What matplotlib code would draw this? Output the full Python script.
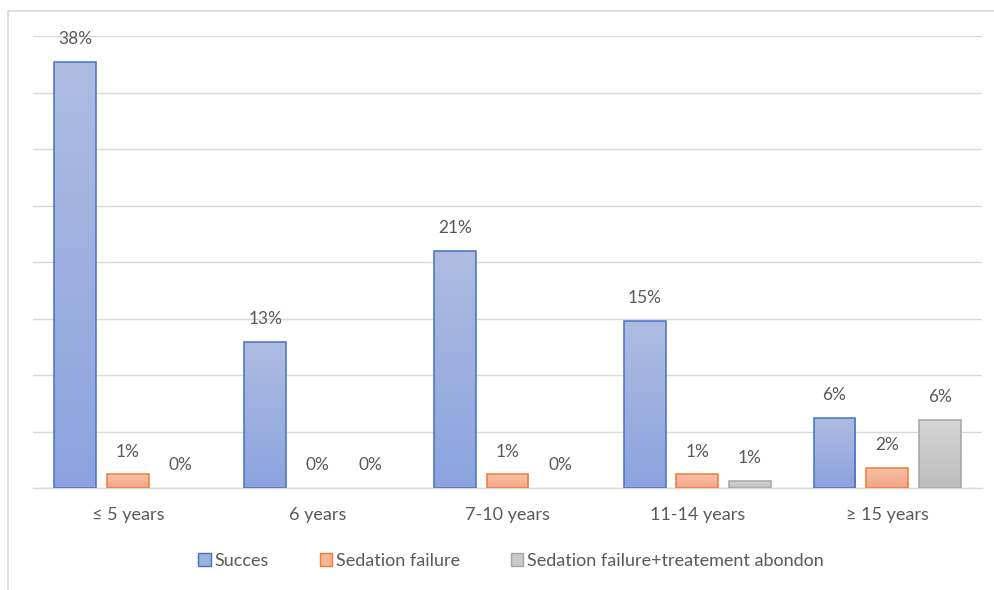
import numpy as np
import matplotlib
matplotlib.use('Agg')
import matplotlib.pyplot as plt
from matplotlib.patches import Rectangle, Patch
from matplotlib.colors import LinearSegmentedColormap

plt.rcParams['font.family'] = ['Lato', 'DejaVu Sans']

groups = ['≤ 5 years', '6 years', '7-10 years', '11-14 years', '≥ 15 years']
series = ['Succes', 'Sedation failure', 'Sedation failure+treatement abondon']
succes = [37.7, 12.9, 21.0, 14.8, 6.2]
sedation_failure = [1.2, 0.0, 1.2, 1.2, 1.8]
failure_abandon = [0.0, 0.0, 0.0, 0.6, 6.0]

# (top colour, bottom colour, edge colour)
styles = [('#AEBCE2', '#8CA3DE', '#4472C4'),
          ('#F8C3AA', '#F4A584', '#ED7D31'),
          ('#D6D6D6', '#BDBDBD', '#A5A5A5')]
text_col = '#595959'
grid_col = '#D9D9D9'

fig = plt.figure(figsize=(9.95, 5.9), dpi=100)
fig.patch.set_facecolor('white')
ax = fig.add_axes([33/995, 1-488/590, (982-33)/995, (488-36)/590])

x = np.arange(len(groups))
width = 0.22
step = 0.277
handles = []
for i, (vals, (top, bot, edge)) in enumerate(zip([succes, sedation_failure, failure_abandon], styles)):
    bars = ax.bar(x + (i-1)*step, vals, width, facecolor='none', edgecolor=edge, linewidth=1.1, zorder=3)
    cmap = LinearSegmentedColormap.from_list('g%d' % i, [bot, top])
    grad = np.linspace(0, 1, 100).reshape(-1, 1)
    for b, v in zip(bars, vals):
        if b.get_height() > 0:
            im = ax.imshow(grad, cmap=cmap, aspect='auto', origin='lower',
                           extent=[b.get_x(), b.get_x()+b.get_width(), 0, b.get_height()], zorder=2)
            im.set_clip_path(b)
        else:
            b.set_linewidth(0)
        ax.annotate('{:.0f}%'.format(v), (b.get_x()+b.get_width()/2, b.get_height()),
                    xytext=(0, 16.5), textcoords='offset points', ha='center', va='center',
                    fontsize=12.5, color=text_col)
    handles.append(Patch(facecolor=cmap(0.5), edgecolor=edge, label=series[i]))

ax.set_xlim(-0.5, len(groups)-0.5)
ax.set_ylim(0, 40)
ax.set_yticks(np.arange(0, 41, 5))
ax.set_yticklabels([])
ax.set_xticks(x)
ax.set_xticklabels(groups, fontsize=13, color=text_col)
ax.tick_params(length=0, pad=14)
ax.yaxis.grid(True, color=grid_col, linewidth=1)
ax.set_axisbelow(True)
for s in ['top', 'right', 'left']:
    ax.spines[s].set_visible(False)
ax.spines['bottom'].set_color(grid_col)
ax.spines['bottom'].set_linewidth(1)
ax.set_facecolor('none')

fig.legend(handles=handles, loc='center', bbox_to_anchor=(511/995, 1-561/590), ncol=3,
           frameon=False, fontsize=13, labelcolor=text_col, handlelength=0.7, handleheight=0.7,
           handletextpad=0.2, columnspacing=2.8)

# outer chart border (cut off on the right and bottom)
fig.patches.append(Rectangle((8/995, -0.2), 1.2, 1.2 - 11/590, transform=fig.transFigure,
                             facecolor='none', edgecolor='#D9D9D9', linewidth=1.2))

fig.savefig('out.png', dpi=100)
